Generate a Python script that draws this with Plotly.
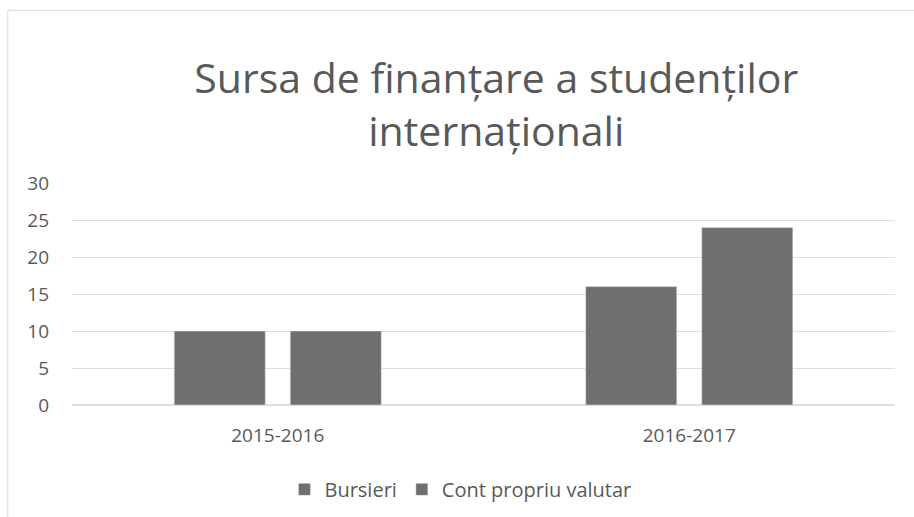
import plotly.graph_objects as go

categories = ["2015-2016", "2016-2017"]
bursieri = [10, 16]
cont_propriu = [10, 24]
y_ticks = [0, 5, 10, 15, 20, 25, 30]

font_fam = "Open Sans, Lato, sans-serif"
txt = "#595959"

fig = go.Figure()
fig.add_trace(go.Bar(name="Bursieri", x=categories, y=bursieri, marker_color="#6f6f6f"))
fig.add_trace(go.Bar(name="Cont propriu valutar", x=categories, y=cont_propriu, marker_color="#6f6f6f"))

fig.update_layout(
    width=914, height=517,
    margin=dict(l=72, r=19, t=183, b=112, autoexpand=False),
    paper_bgcolor="white", plot_bgcolor="white",
    barmode="group", bargap=0.436, bargroupgap=0.215,
    title=dict(text="Sursa de finanțare a studenților<br>internaționali",
               x=0.543, xanchor="center", y=0.82, yanchor="top", yref="container",
               font=dict(family=font_fam, size=41, color=txt)),
    font=dict(family=font_fam, color=txt),
    legend=dict(orientation="h", x=0.472, xanchor="center", y=-0.38, yanchor="middle",
                font=dict(size=20, color=txt), itemwidth=30),
    xaxis=dict(showgrid=False, showline=False, ticks="", tickfont=dict(size=19, color=txt),
               ticklabelstandoff=17, automargin=False),
    yaxis=dict(range=[0, 30], tickvals=y_ticks, showgrid=True, gridcolor="#dedede", gridwidth=1,
               zeroline=True, zerolinecolor="#dedede", showline=False, automargin=False,
               tickfont=dict(size=19, color=txt), ticklabelstandoff=22),
    shapes=[dict(type="rect", xref="paper", yref="paper", x0=-0.078, x1=1.2, y0=-1.0, y1=1.778,
                 line=dict(color="#d9d9d9", width=1), fillcolor="rgba(0,0,0,0)", layer="below")],
)

fig.write_html("out.html")
